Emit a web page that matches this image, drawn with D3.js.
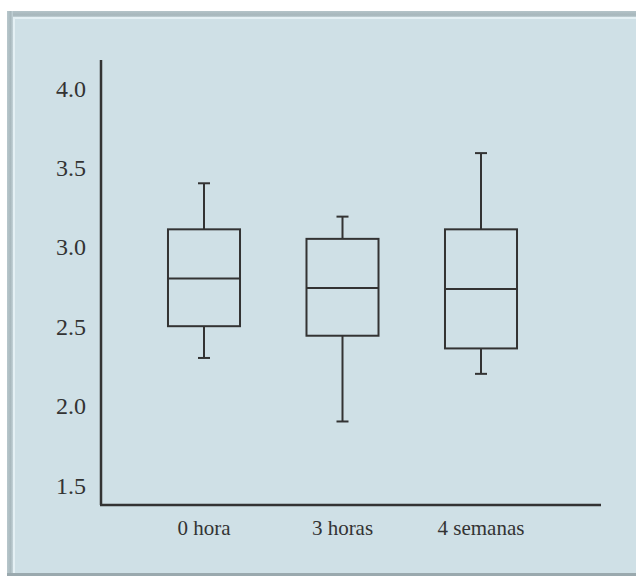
<!DOCTYPE html>
<html>
<head>
<meta charset="utf-8">
<script src="https://cdn.jsdelivr.net/npm/d3@7"></script>
<style>
  html, body { margin: 0; padding: 0; background: #ffffff; }
  svg { display: block; }
</style>
</head>
<body>
<script>
// ---- data ----
const categories = ["0 hora", "3 horas", "4 semanas"];
const whiskerLow  = [2.30, 1.90, 2.20];
const q1          = [2.50, 2.44, 2.36];
const median      = [2.80, 2.74, 2.735];
const q3          = [3.11, 3.05, 3.11];
const whiskerHigh = [3.40, 3.19, 3.59];
const yTicks = [1.5, 2.0, 2.5, 3.0, 3.5, 4.0];

const W = 636, H = 576;
const svg = d3.select("body").append("svg").attr("width", W).attr("height", H);

// ---- panel with bevel border ----
const defs = svg.append("defs");
const gTop = defs.append("linearGradient").attr("id", "gTop").attr("x1", 0).attr("y1", 0).attr("x2", 0).attr("y2", 1);
gTop.append("stop").attr("offset", "0%").attr("stop-color", "#b4c3c8");
gTop.append("stop").attr("offset", "70%").attr("stop-color", "#a6b6bb");
gTop.append("stop").attr("offset", "100%").attr("stop-color", "#c2d1d6");
const gLeft = defs.append("linearGradient").attr("id", "gLeft").attr("x1", 0).attr("y1", 0).attr("x2", 1).attr("y2", 0);
gLeft.append("stop").attr("offset", "0%").attr("stop-color", "#b8c7cc");
gLeft.append("stop").attr("offset", "60%").attr("stop-color", "#a9b9be");
gLeft.append("stop").attr("offset", "100%").attr("stop-color", "#c4d3d8");

svg.append("rect").attr("x", 7).attr("y", 11).attr("width", W - 7).attr("height", H - 11).attr("fill", "#cfe0e6");
svg.append("rect").attr("x", 7).attr("y", 11).attr("width", W - 7).attr("height", 6).attr("fill", "url(#gTop)");
svg.append("rect").attr("x", 7).attr("y", 11).attr("width", 6).attr("height", H - 11).attr("fill", "url(#gLeft)");
svg.append("rect").attr("x", 13).attr("y", 17).attr("width", W - 13).attr("height", 2).attr("fill", "#e4f0f4");
svg.append("rect").attr("x", 13).attr("y", 17).attr("width", 2).attr("height", H - 20).attr("fill", "#e4f0f4");
svg.append("rect").attr("x", 7).attr("y", 573).attr("width", W - 7).attr("height", 3).attr("fill", "#9aa9ae");

// ---- scales ----
const y = d3.scaleLinear().domain([1.5, 4.0]).range([485, 88]);
const x = d3.scaleBand().domain(categories).range([134.75, 550.25]).paddingInner(0.48).paddingOuter(0.24);

const ink = "#333333";

// ---- axes lines ----
svg.append("line").attr("x1", 101).attr("x2", 101).attr("y1", 60).attr("y2", 505)
  .attr("stroke", ink).attr("stroke-width", 2.5);
svg.append("line").attr("x1", 100).attr("x2", 601).attr("y1", 505).attr("y2", 505)
  .attr("stroke", ink).attr("stroke-width", 2.5);

// ---- y tick labels ----
const yAxis = d3.axisLeft(y).tickValues(yTicks).tickFormat(d3.format(".1f")).tickSize(0).tickPadding(0);
const ya = svg.append("g").attr("transform", "translate(86,0)").call(yAxis);
ya.select(".domain").remove();
ya.selectAll("text").attr("font-family", "'Liberation Serif', 'Times New Roman', serif")
  .attr("font-size", 24).attr("fill", ink).attr("dy", "0.34em");

// ---- x labels ----
const xAxis = d3.axisBottom(x).tickSize(0).tickPadding(0);
const xa = svg.append("g").attr("transform", "translate(0,0)").call(xAxis);
xa.select(".domain").remove();
xa.selectAll("text").attr("font-family", "'Liberation Serif', 'Times New Roman', serif")
  .attr("font-size", 21).attr("fill", ink).attr("y", 535).attr("dy", 0);

// ---- boxes ----
const data = categories.map((c, i) => ({c, lo: whiskerLow[i], q1: q1[i], med: median[i], q3: q3[i], hi: whiskerHigh[i]}));
const g = svg.append("g").attr("stroke", ink).attr("stroke-width", 2).attr("fill", "none");
const bw = x.bandwidth();
const cap = 12;
data.forEach(d => {
  const cx = x(d.c) + bw / 2;
  g.append("line").attr("x1", cx).attr("x2", cx).attr("y1", y(d.hi)).attr("y2", y(d.q3));
  g.append("line").attr("x1", cx).attr("x2", cx).attr("y1", y(d.q1)).attr("y2", y(d.lo));
  g.append("line").attr("x1", cx - cap / 2).attr("x2", cx + cap / 2).attr("y1", y(d.hi)).attr("y2", y(d.hi));
  g.append("line").attr("x1", cx - cap / 2).attr("x2", cx + cap / 2).attr("y1", y(d.lo)).attr("y2", y(d.lo));
  g.append("rect").attr("x", x(d.c)).attr("y", y(d.q3)).attr("width", bw).attr("height", y(d.q1) - y(d.q3));
  g.append("line").attr("x1", x(d.c)).attr("x2", x(d.c) + bw).attr("y1", y(d.med)).attr("y2", y(d.med));
});
</script>
</body>
</html>
